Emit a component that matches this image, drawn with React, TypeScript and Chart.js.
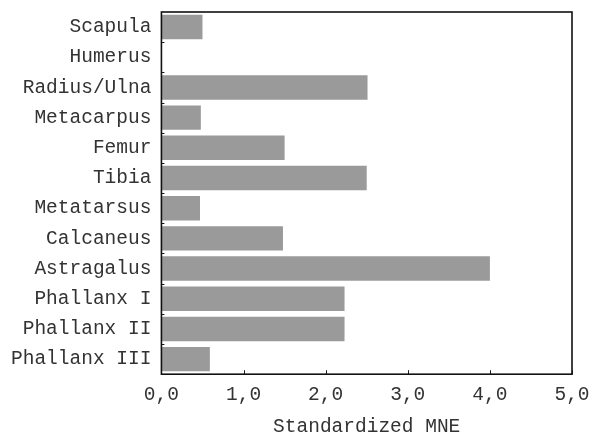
import React, { useEffect, useRef } from "react";
import { Chart, registerables } from "chart.js";

Chart.register(...registerables);

const categories = [
  "Scapula",
  "Humerus",
  "Radius/Ulna",
  "Metacarpus",
  "Femur",
  "Tibia",
  "Metatarsus",
  "Calcaneus",
  "Astragalus",
  "Phallanx I",
  "Phallanx II",
  "Phallanx III",
];
const mneValues = [0.5, 0, 2.51, 0.48, 1.5, 2.5, 0.47, 1.48, 4.0, 2.23, 2.23, 0.59];
const xTickValues = [0, 1, 2, 3, 4, 5];
const xAxisTitle = "Standardized MNE";

const FONT = "'Liberation Mono', 'Courier New', monospace";
const TEXT = "#333333";

const framePlugin = {
  id: "frame",
  afterDraw(chart: any) {
    const { ctx, chartArea: a, scales } = chart;
    const x = scales.x;
    const y = scales.y;
    ctx.save();
    ctx.strokeStyle = "#1a1a1a";
    ctx.lineWidth = 1;
    ctx.beginPath();
    for (let i = 0; i < categories.length - 1; i++) {
      const p = Math.round((y.getPixelForValue(i) + y.getPixelForValue(i + 1)) / 2) + 0.5;
      ctx.moveTo(a.left, p);
      ctx.lineTo(a.left + 3, p);
    }
    for (const v of xTickValues) {
      const p = Math.round(x.getPixelForValue(v)) + 0.5;
      ctx.moveTo(p, a.bottom);
      ctx.lineTo(p, a.bottom - 4);
    }
    ctx.stroke();
    ctx.lineWidth = 1.6;
    ctx.strokeStyle = "#111";
    ctx.strokeRect(a.left, a.top, a.right - a.left, a.bottom - a.top);
    ctx.restore();
  },
};

export default function App() {
  const ref = useRef<HTMLCanvasElement | null>(null);

  useEffect(() => {
    if (!ref.current) return;
    const chart = new Chart(ref.current, {
      type: "bar",
      data: {
        labels: categories,
        datasets: [
          {
            data: mneValues,
            backgroundColor: "#9a9a9a",
            borderWidth: 0,
            barPercentage: 0.81,
            categoryPercentage: 1,
          },
        ],
      },
      options: {
        indexAxis: "y",
        animation: false,
        responsive: false,
        devicePixelRatio: 1,
        layout: { padding: { left: 1, right: 18, top: 12, bottom: 0 } },
        plugins: {
          legend: { display: false },
          tooltip: { enabled: false },
        },
        scales: {
          x: {
            type: "linear",
            min: 0,
            max: 5,
            afterBuildTicks: (scale: any) => {
              scale.ticks = xTickValues.map((v) => ({ value: v }));
            },
            afterFit: (scale: any) => {
              scale.paddingLeft = 0;
              scale.paddingRight = 0;
            },
            grid: { display: false, drawTicks: false },
            border: { display: false },
            ticks: {
              padding: 9,
              maxRotation: 0,
              color: TEXT,
              font: { family: FONT, size: 19.5 },
              callback: (v: any) => Number(v).toFixed(1).replace(".", ","),
            },
            title: {
              display: true,
              text: xAxisTitle,
              color: TEXT,
              font: { family: FONT, size: 19.5 },
              padding: { top: 0, bottom: 0 },
            },
          },
          y: {
            afterFit: (scale: any) => {
              scale.paddingTop = 0;
              scale.paddingBottom = 0;
            },
            grid: { display: false, drawTicks: false },
            border: { display: false },
            ticks: {
              padding: 10,
              color: TEXT,
              font: { family: FONT, size: 19.5 },
            },
          },
        },
      },
      plugins: [framePlugin],
    });
    return () => chart.destroy();
  }, []);

  return (
    <div
      style={{
        position: "fixed",
        left: 0,
        top: 0,
        width: 590,
        height: 434,
        overflow: "hidden",
        background: "#fff",
      }}
    >
      <canvas ref={ref} width={590} height={439} style={{ display: "block", width: 590, height: 439 }} />
    </div>
  );
}
